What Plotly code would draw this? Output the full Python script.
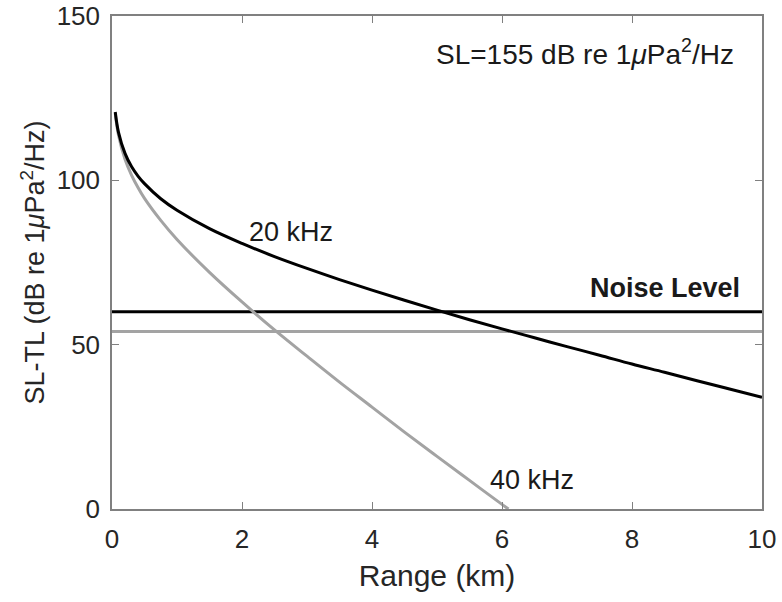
import plotly.graph_objects as go

# Range samples (km) and read-off levels (dB re 1 uPa^2/Hz)
range_20k = [0.05, 0.1, 0.2, 0.3, 0.4, 0.5, 0.75, 1.0, 1.5, 2.0, 2.5, 3.0, 3.5, 4.0,
             4.5, 5.0, 5.5, 6.0, 6.5, 7.0, 7.5, 8.0, 8.5, 9.0, 9.5, 10.0]
level_20k = [120.8, 114.6, 108.2, 104.2, 101.3, 99.0, 94.4, 90.9, 85.3, 80.8, 76.8, 73.2,
             69.8, 66.6, 63.5, 60.5, 57.6, 54.8, 52.1, 49.4, 46.8, 44.1, 41.6, 39.0, 36.5, 34.0]

range_40k = [0.05, 0.1, 0.2, 0.3, 0.4, 0.5, 0.75, 1.0, 1.5, 2.0, 2.5, 3.0, 3.5, 4.0,
             4.5, 5.0, 5.5, 6.0, 6.1]
level_40k = [120.4, 113.7, 106.4, 101.6, 97.8, 94.5, 87.8, 82.0, 72.0, 63.0, 54.5, 46.5,
             38.6, 31.0, 23.4, 16.0, 8.7, 1.4, 0.0]

noise_range = [0, 10]
noise_20k = [60, 60]
noise_40k = [54, 54]

x_ticks = [0, 2, 4, 6, 8, 10]
y_ticks = [0, 50, 100, 150]

BLACK = "#000000"
GRAY = "#a3a3a3"
FONT = "Liberation Sans, Arial, sans-serif"
TEXT_COLOR = "#262626"

fig = go.Figure()
fig.add_trace(go.Scatter(x=noise_range, y=noise_40k, mode="lines",
                         line=dict(color=GRAY, width=3), showlegend=False))
fig.add_trace(go.Scatter(x=noise_range, y=noise_20k, mode="lines",
                         line=dict(color=BLACK, width=3), showlegend=False))
fig.add_trace(go.Scatter(x=range_40k, y=level_40k, mode="lines",
                         line=dict(color=GRAY, width=3, shape="spline"), showlegend=False))
fig.add_trace(go.Scatter(x=range_20k, y=level_20k, mode="lines",
                         line=dict(color=BLACK, width=3, shape="spline"), showlegend=False))

axis_common = dict(
    showline=True, linecolor="#808080", linewidth=1.5, mirror="ticks",
    ticks="inside", ticklen=7, tickcolor="#808080", tickwidth=1.2,
    showgrid=False, zeroline=False, automargin=False, ticklabeloverflow="allow",
    tickfont=dict(family=FONT, size=26, color=TEXT_COLOR),
)

fig.update_xaxes(range=[0, 10], tickvals=x_ticks, ticktext=[str(v) for v in x_ticks],
                 ticklabelstandoff=6,
                 title=dict(text="Range (km)", font=dict(family=FONT, size=30, color=TEXT_COLOR),
                            standoff=12),
                 **axis_common)
fig.update_yaxes(range=[0, 150], tickvals=y_ticks, ticktext=[str(v) for v in y_ticks],
                 ticklabelstandoff=5,
                 title=dict(text="SL-TL (dB re 1<i>μ</i>Pa<sup>2</sup>/Hz)",
                            font=dict(family=FONT, size=27, color=TEXT_COLOR), standoff=4),
                 **axis_common)

ann_font = dict(family=FONT, size=27, color="#1a1a1a")
fig.add_annotation(x=9.6, y=139, xref="x", yref="y", xanchor="right", yanchor="middle",
                   text="SL=155 dB re 1<i>μ</i>Pa<sup>2</sup>/Hz", showarrow=False,
                   font=dict(family=FONT, size=28, color="#1a1a1a"))
fig.add_annotation(x=2.08, y=84.3, xref="x", yref="y", xanchor="left", yanchor="middle",
                   text="20 kHz", showarrow=False, font=ann_font)
fig.add_annotation(x=9.69, y=67.2, xref="x", yref="y", xanchor="right", yanchor="middle",
                   text="<b>Noise Level</b>", showarrow=False, font=ann_font)
fig.add_annotation(x=5.78, y=8.8, xref="x", yref="y", xanchor="left", yanchor="middle",
                   text="40 kHz", showarrow=False, font=ann_font)

fig.update_layout(
    width=782, height=602,
    margin=dict(l=112, r=20, t=16, b=93),
    paper_bgcolor="white", plot_bgcolor="white",
    font=dict(family=FONT),
)

# remove the default page margin so the figure sits at the window's corner
fig.write_html("out.html", config={"displayModeBar": False},
               post_script="document.body.style.margin='0';")
